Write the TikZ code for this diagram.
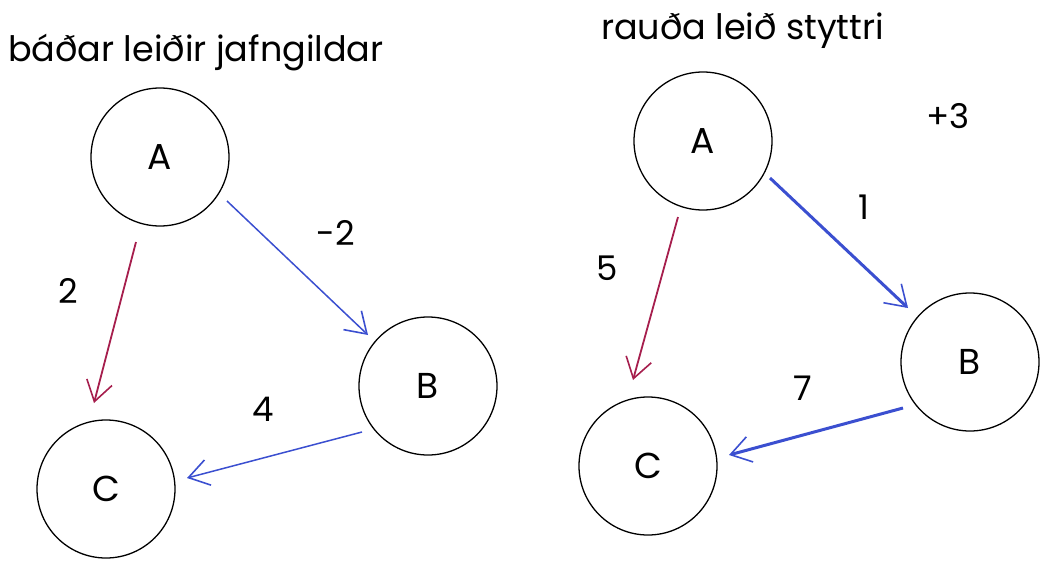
\documentclass[tikz,border=0pt]{standalone}
\usepackage{fontspec}
\setmainfont{Poppins}
\usetikzlibrary{arrows.meta}
\definecolor{edred}{HTML}{A61E4D}
\definecolor{edblue}{HTML}{3B4FD0}
\tikzset{
  vert/.style={circle,draw=black,line width=1.3pt,minimum size=138pt,inner sep=0pt,font=\fontsize{36}{40}\selectfont},
  lbl/.style={font=\fontsize{34}{38}\selectfont,inner sep=0pt},
  ttl/.style={font=\fontsize{35}{40}\selectfont,inner sep=0pt,anchor=west},
  tip/.style={-{Straight Barb[length=20pt,width=26pt,line width=1.6pt]}},
  thinred/.style={tip,draw=edred,line width=1.8pt},
  thinblue/.style={tip,draw=edblue,line width=1.5pt},
  thickblue/.style={tip,draw=edblue,line width=3pt},
}
\begin{document}
\begin{tikzpicture}[x=1pt,y=-1pt]
\useasboundingbox (0,0) rectangle (1049,568);
% left
\node[ttl] (t1) at (8,53) {báðar leiðir jafngildar};
\node[vert] (A1) at (160,157) {A};
\node[vert] (B1) at (428,386) {B};
\node[vert] (C1) at (106,489) {C};
\draw[thinred] ([shift={(-24,85)}]A1.center) -- ([shift={(-12,-86)}]C1.center);
\draw[thinblue] ([shift={(67,44)}]A1.center) -- ([shift={(-60,-51)}]B1.center);
\draw[thinblue] ([shift={(-66,46)}]B1.center) -- ([shift={(81,-11)}]C1.center);
\node[lbl] (l2) at (68,291) {2};
\node[lbl] (lm2) at (336,233) {-2};
\node[lbl] (l4) at (263,409) {4};
% right
\node[ttl] (t2) at (601,31) {rauða leið styttri};
\node[vert] (A2) at (703,141) {A};
\node[vert] (B2) at (970,362) {B};
\node[vert] (C2) at (648,466) {C};
\draw[thinred] ([shift={(-25,76)}]A2.center) -- ([shift={(-15,-86)}]C2.center);
\draw[thickblue] ([shift={(67,37)}]A2.center) -- ([shift={(-62,-54)}]B2.center);
\draw[thickblue] ([shift={(-67,46)}]B2.center) -- ([shift={(81,-11)}]C2.center);
\node[lbl] (l5) at (607,268) {5};
\node[lbl] (l1) at (864,207) {1};
\node[lbl] (l7) at (803,388) {7};
\node[lbl] (l3) at (948,116) {+3};
\end{tikzpicture}
\end{document}
